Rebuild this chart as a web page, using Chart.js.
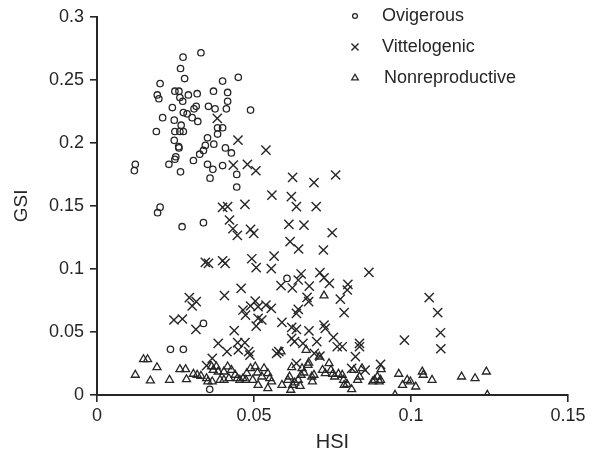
<!DOCTYPE html>
<html>
<head>
<meta charset="utf-8">
<script src="https://cdn.jsdelivr.net/npm/chart.js@4.4.0/dist/chart.umd.min.js"></script>
<style>
  html, body { margin: 0; padding: 0; background: #fff; }
  #wrap { width: 597px; height: 462px; }
</style>
</head>
<body>
<div id="wrap"><canvas id="chart" width="597" height="462"></canvas></div>
<script>
// Valeurs (HSI en x, GSI en y)
const seriesNames = ['Ovigerous', 'Vittelogenic', 'Nonreproductive'];

const ovigerousHSI = [0.0331, 0.0274, 0.0266, 0.0279, 0.0450, 0.0400, 0.0201, 0.0192, 0.0197, 0.0248,
  0.0261, 0.0264, 0.0291, 0.0319, 0.0371, 0.0416, 0.0416, 0.0273, 0.0240, 0.0209,
  0.0246, 0.0275, 0.0287, 0.0309, 0.0316, 0.0355, 0.0376, 0.0412, 0.0489, 0.0303,
  0.0321, 0.0268, 0.0189, 0.0248, 0.0264, 0.0275, 0.0384, 0.0400, 0.0384, 0.0352,
  0.0345, 0.0372, 0.0246, 0.0260, 0.0261, 0.0339, 0.0327, 0.0409, 0.0428, 0.0251,
  0.0248, 0.0307, 0.0229, 0.0122, 0.0119, 0.0352, 0.0400, 0.0266, 0.0369, 0.0360,
  0.0445, 0.0445, 0.0201, 0.0193, 0.0271, 0.0339, 0.0605, 0.0339, 0.0234, 0.0275,
  0.0359];
const ovigerousGSI = [0.2715, 0.268, 0.259, 0.251, 0.252, 0.249, 0.247, 0.238, 0.235, 0.241,
  0.241, 0.236, 0.238, 0.239, 0.241, 0.240, 0.233, 0.233, 0.228, 0.220,
  0.218, 0.224, 0.223, 0.227, 0.229, 0.229, 0.227, 0.227, 0.226, 0.220,
  0.217, 0.214, 0.209, 0.209, 0.209, 0.209, 0.212, 0.212, 0.207, 0.204,
  0.198, 0.199, 0.202, 0.197, 0.196, 0.194, 0.191, 0.196, 0.192, 0.189,
  0.187, 0.186, 0.183, 0.183, 0.178, 0.183, 0.182, 0.177, 0.179, 0.172,
  0.175, 0.165, 0.149, 0.1446, 0.1335, 0.1367, 0.0925, 0.0568, 0.0362, 0.0362,
  0.0045];

const vittelogenicHSI = [0.0383, 0.0449, 0.0538, 0.0434, 0.0479, 0.0506, 0.0623, 0.0691, 0.0760, 0.0557,
  0.0619, 0.0635, 0.0698, 0.0471, 0.0400, 0.0416, 0.0422, 0.0433, 0.0447, 0.0489,
  0.0499, 0.0611, 0.0659, 0.0749, 0.0615, 0.0642, 0.0721, 0.0345, 0.0355, 0.0400,
  0.0408, 0.0564, 0.0493, 0.0507, 0.0555, 0.0866, 0.0710, 0.0723, 0.0650, 0.0641,
  0.0740, 0.0676, 0.0586, 0.0622, 0.0799, 0.0797, 0.0459, 0.0406, 0.1058, 0.0775,
  0.0669, 0.0674, 0.0294, 0.0316, 0.0303, 0.0504, 0.0489, 0.0465, 0.0538, 0.0555,
  0.0513, 0.0473, 0.0787, 0.1085, 0.0635, 0.0641, 0.0589, 0.0245, 0.0272, 0.0513,
  0.0525, 0.0507, 0.0723, 0.0727, 0.0620, 0.0635, 0.0675, 0.0315, 0.0437, 0.1094,
  0.0979, 0.0620, 0.0629, 0.0753, 0.0700, 0.0448, 0.0471, 0.0386, 0.0656, 0.0765,
  0.0781, 0.0836, 0.0836, 0.1095, 0.0414, 0.0450, 0.0483, 0.0487, 0.0572, 0.0579,
  0.0692, 0.0710, 0.0823, 0.0367, 0.0349, 0.0903, 0.0854, 0.0635, 0.0811];
const vittelogenicGSI = [0.2194, 0.2022, 0.1943, 0.1824, 0.1829, 0.1779, 0.1726, 0.1684, 0.1745, 0.1586,
  0.1573, 0.1494, 0.1494, 0.1512, 0.1488, 0.1494, 0.1388, 0.1319, 0.1266, 0.1314,
  0.1282, 0.1353, 0.1348, 0.1287, 0.1216, 0.1158, 0.1150, 0.1052, 0.1044, 0.1065,
  0.1044, 0.1102, 0.1081, 0.1010, 0.1002, 0.0973, 0.0970, 0.0930, 0.0960, 0.0912,
  0.0886, 0.0864, 0.0867, 0.0849, 0.0878, 0.0833, 0.0846, 0.0788, 0.0772, 0.0761,
  0.0775, 0.0740, 0.0772, 0.0740, 0.0706, 0.0745, 0.0706, 0.0674, 0.0714, 0.0687,
  0.0700, 0.0634, 0.0653, 0.0653, 0.0648, 0.0679, 0.0576, 0.0595, 0.0603, 0.0608,
  0.0595, 0.0547, 0.0555, 0.0529, 0.0537, 0.0521, 0.0508, 0.0521, 0.0510, 0.0494,
  0.0436, 0.0449, 0.0423, 0.0457, 0.0423, 0.0415, 0.0415, 0.0410, 0.0410, 0.0383,
  0.0383, 0.0410, 0.0383, 0.0367, 0.0344, 0.0357, 0.0344, 0.0317, 0.0330, 0.0344,
  0.0330, 0.0309, 0.0304, 0.0291, 0.0233, 0.0243, 0.0198, 0.0251, 0.0211];

const nonreproHSI = [0.0723, 0.0620, 0.0122, 0.0148, 0.0161, 0.0191, 0.0170, 0.0231, 0.0264, 0.0282,
  0.0285, 0.0307, 0.0319, 0.0331, 0.0349, 0.0353, 0.0365, 0.0370, 0.0380, 0.0386,
  0.0392, 0.0404, 0.0404, 0.0416, 0.0420, 0.0428, 0.0440, 0.0447, 0.0455, 0.0465,
  0.0474, 0.0489, 0.0496, 0.0504, 0.0511, 0.0513, 0.0525, 0.0532, 0.0544, 0.0550,
  0.0544, 0.0556, 0.0586, 0.0589, 0.0608, 0.0613, 0.0617, 0.0623, 0.0630, 0.0641,
  0.0647, 0.0650, 0.0653, 0.0659, 0.0666, 0.0672, 0.0674, 0.0684, 0.0686, 0.0691,
  0.0708, 0.0718, 0.0727, 0.0739, 0.0745, 0.0751, 0.0757, 0.0769, 0.0781, 0.0785,
  0.0787, 0.0796, 0.0811, 0.0818, 0.0830, 0.0836, 0.0844, 0.0878, 0.0884, 0.0893,
  0.0899, 0.0905, 0.0903, 0.0949, 0.0961, 0.0973, 0.0988, 0.0998, 0.1015, 0.1036,
  0.1039, 0.1067, 0.1161, 0.1204, 0.1240, 0.1243, 0.0477, 0.0367];
const nonreproGSI = [0.0788, 0.0219, 0.0159, 0.0283, 0.0283, 0.0219, 0.0114, 0.0119, 0.0204, 0.0204,
  0.0124, 0.0167, 0.0159, 0.0151, 0.0132, 0.0106, 0.0225, 0.0198, 0.0225, 0.0185,
  0.0119, 0.0119, 0.0185, 0.0225, 0.0132, 0.0198, 0.0159, 0.0132, 0.0119, 0.0132,
  0.0119, 0.0211, 0.0119, 0.0225, 0.0177, 0.0079, 0.0145, 0.0211, 0.0172, 0.0132,
  0.0053, 0.0106, 0.0344, 0.0079, 0.0119, 0.0145, 0.0040, 0.0079, 0.0098, 0.0119,
  0.0071, 0.0159, 0.0211, 0.0177, 0.0357, 0.0238, 0.0256, 0.0145, 0.0106, 0.0159,
  0.0304, 0.0198, 0.0172, 0.0251, 0.0198, 0.0167, 0.0145, 0.0167, 0.0159, 0.0119,
  0.0079, 0.0087, 0.0045, 0.0198, 0.0119, 0.0145, 0.0211, 0.0106, 0.0119, 0.0145,
  0.0106, 0.0204, 0.0119, 0.0000, 0.0167, 0.0079, 0.0119, 0.0106, 0.0066, 0.0185,
  0.0159, 0.0119, 0.0145, 0.0132, 0.0185, 0.0000, 0.0172, 0.0106];

const xTickLabels = ['0', '0.05', '0.1', '0.15'];
const yTickLabels = ['0', '0.05', '0.1', '0.15', '0.2', '0.25', '0.3'];

const ink = '#262626';
const FONT = '"Liberation Sans", Arial, sans-serif';

function toPoints(xs, ys) {
  return xs.map((x, i) => ({ x: x, y: ys[i] }));
}

const styles = [
  { pointStyle: 'circle', radius: 3.2, borderWidth: 1.3, legendRadius: 2.4 },
  { pointStyle: 'crossRot', radius: 6.5, borderWidth: 1.4, legendRadius: 5 },
  { pointStyle: 'triangle', radius: 4.6, borderWidth: 1.3, legendRadius: 3.8 }
];

// Légende dessinée à la main en haut à droite
const legendPlugin = {
  id: 'cornerLegend',
  afterDraw(chart) {
    const ctx = chart.ctx;
    const rows = [
      { y: 16, tx: 382 },
      { y: 47, tx: 382 },
      { y: 78, tx: 384 }
    ];
    ctx.save();
    rows.forEach((row, i) => {
      const st = styles[i];
      ctx.strokeStyle = ink;
      ctx.fillStyle = 'rgba(0,0,0,0)';
      ctx.lineWidth = st.borderWidth;
      Chart.helpers.drawPoint(ctx, {
        pointStyle: st.pointStyle,
        radius: st.legendRadius,
        rotation: 0,
        borderWidth: st.borderWidth
      }, 355, row.y);
      ctx.fillStyle = ink;
      ctx.font = '18px ' + FONT;
      ctx.textBaseline = 'middle';
      ctx.textAlign = 'left';
      ctx.fillText(seriesNames[i], row.tx, row.y);
    });
    ctx.restore();
  }
};

const datasets = [
  toPoints(ovigerousHSI, ovigerousGSI),
  toPoints(vittelogenicHSI, vittelogenicGSI),
  toPoints(nonreproHSI, nonreproGSI)
].map((pts, i) => ({
  label: seriesNames[i],
  data: pts,
  pointStyle: styles[i].pointStyle,
  pointRadius: styles[i].radius,
  pointHoverRadius: styles[i].radius,
  pointBorderWidth: styles[i].borderWidth,
  pointBorderColor: ink,
  pointBackgroundColor: 'rgba(0,0,0,0)',
  showLine: false
}));

new Chart(document.getElementById('chart'), {
  type: 'scatter',
  data: { datasets: datasets },
  options: {
    responsive: false,
    animation: false,
    devicePixelRatio: 1,
    layout: { padding: { left: 0, right: 29, top: 16, bottom: 0 } },
    plugins: {
      legend: { display: false },
      tooltip: { enabled: false }
    },
    scales: {
      x: {
        type: 'linear',
        min: 0,
        max: 0.15,
        afterBuildTicks(scale) {
          scale.ticks = xTickLabels.map(t => ({ value: parseFloat(t) }));
        },
        afterFit(scale) { scale.height = 67; },
        ticks: {
          callback: (v, i) => xTickLabels[i],
          color: ink,
          font: { family: FONT, size: 18 },
          padding: 3,
          maxRotation: 0
        },
        grid: { display: true, drawOnChartArea: false, drawTicks: true, tickLength: 7, color: ink, lineWidth: 1.6 },
        border: { display: true, color: ink, width: 2 },
        title: {
          display: true,
          text: 'HSI',
          color: ink,
          font: { family: FONT, size: 20 },
          padding: { top: 0, bottom: 8 }
        }
      },
      y: {
        type: 'linear',
        min: 0,
        max: 0.3,
        afterBuildTicks(scale) {
          scale.ticks = yTickLabels.map(t => ({ value: parseFloat(t) }));
        },
        afterFit(scale) { scale.width = 97; },
        ticks: {
          callback: (v, i) => yTickLabels[i],
          color: ink,
          font: { family: FONT, size: 18 },
          padding: 6
        },
        grid: { display: true, drawOnChartArea: false, drawTicks: true, tickLength: 7, color: ink, lineWidth: 1.6 },
        border: { display: true, color: ink, width: 2 },
        title: {
          display: true,
          text: 'GSI',
          color: ink,
          font: { family: FONT, size: 19 },
          padding: { top: 10, bottom: 0 }
        }
      }
    }
  },
  plugins: [legendPlugin]
});
</script>
</body>
</html>
